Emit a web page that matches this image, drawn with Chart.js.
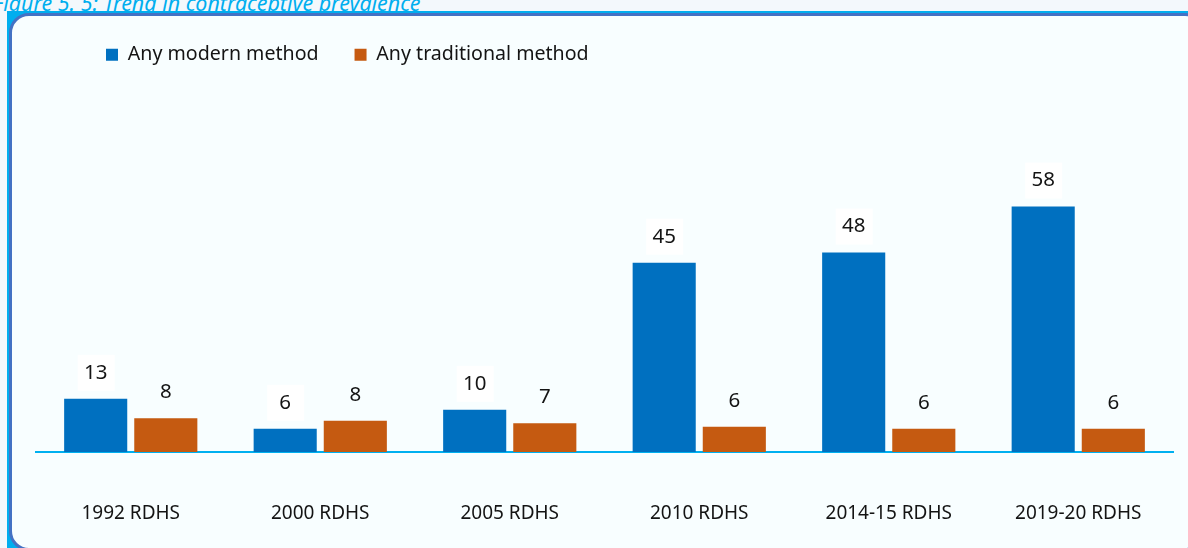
<!DOCTYPE html>
<html>
<head>
<meta charset="utf-8">
<script src="https://cdn.jsdelivr.net/npm/chart.js@4/dist/chart.umd.min.js"></script>
<style>
  html, body { margin: 0; padding: 0; }
  body { width: 1188px; height: 548px; overflow: hidden; position: relative; background: #f3f8fc; font-family: "Noto Sans", sans-serif; }
  #title { position: absolute; left: -7px; top: -12px; font-style: italic; font-size: 21.4px; color: #00aeef; white-space: nowrap; }
  #back { position: absolute; left: 7px; top: 11px; width: 1200px; height: 560px; background: #00aeef; }
  #card { position: absolute; left: 9px; top: 13px; width: 1190px; height: 532px; background: #f8feff; border: 3px solid #4472c4; border-radius: 20px; }
  #wrap { position: absolute; left: 0; top: 0; width: 1188px; height: 548px; }
</style>
</head>
<body>
<div id="title">Figure 5. 5: Trend in contraceptive prevalence</div>
<div id="back"></div>
<div id="card"></div>
<div id="wrap"><canvas id="chart"></canvas></div>
<script>
// survey rounds
var surveys = ["1992 RDHS", "2000 RDHS", "2005 RDHS", "2010 RDHS", "2014-15 RDHS", "2019-20 RDHS"];
// bar heights
var modern = [12.6, 5.5, 10.0, 44.9, 47.3, 58.2];
var traditional = [8.0, 7.4, 6.8, 6.0, 5.5, 5.5];
// the numbers printed above the bars
var modernLabels = ["13", "6", "10", "45", "48", "58"];
var traditionalLabels = ["8", "8", "7", "6", "6", "6"];

var FONT = "'Noto Sans', sans-serif";

// value labels above each bar, on a white patch
var barLabels = {
	id: "barLabels",
	afterDatasetsDraw: function(chart){
		var ctx = chart.ctx;
		var texts = [modernLabels, traditionalLabels];
		ctx.save();
		ctx.font = "20.5px " + FONT;
		ctx.textAlign = "center";
		ctx.textBaseline = "middle";
		chart.data.datasets.forEach(function(ds, d){
			chart.getDatasetMeta(d).data.forEach(function(bar, i){
				var y = bar.y - 26;
				if (d === 0) {
					ctx.fillStyle = "#ffffff";
					ctx.fillRect(bar.x - 18, y - 18, 37, 36);
				}
				ctx.fillStyle = "#141414";
				ctx.fillText(texts[d][i], bar.x, y);
			});
		});
		ctx.restore();
	}
};

// push the legend to the right like in the original
var legendShift = {
	id: "legendShift",
	afterLayout: function(chart){
		chart.legend.left += 34;
		chart.legend.right += 34;
	}
};

new Chart(document.getElementById("chart"), {
	type: "bar",
	data: {
		labels: surveys,
		datasets: [{
			label: "Any modern method",
			data: modern,
			backgroundColor: "#0070c0",
			borderWidth: 0
		}, {
			label: "Any traditional method",
			data: traditional,
			backgroundColor: "#c55a11",
			borderWidth: 0
		}]
	},
	options: {
		responsive: true,
		maintainAspectRatio: false,
		animation: false,
		layout: { padding: { left: 36, right: 15, top: 9, bottom: 16 } },
		datasets: { bar: { categoryPercentage: 0.74, barPercentage: 0.9 } },
		plugins: {
			legend: {
				position: "top",
				align: "start",
				labels: {
					boxWidth: 12,
					boxHeight: 12,
					padding: 36,
					color: "#141414",
					font: { family: FONT, size: 19.6 }
				}
			},
			tooltip: { enabled: false }
		},
		scales: {
			x: {
				grid: { display: false, drawTicks: false },
				border: { display: true, color: "#00b0f0", width: 2 },
				ticks: { color: "#141414", padding: 50, font: { family: FONT, size: 19 } },
				afterFit: function(scale){
					scale.height = 80;
					// the big tick padding should not eat into the width
					scale.paddingLeft = 0;
					scale.paddingRight = 0;
				}
			},
			y: {
				display: false,
				min: 0,
				max: 89.5
			}
		}
	},
	plugins: [barLabels, legendShift]
});
</script>
</body>
</html>
